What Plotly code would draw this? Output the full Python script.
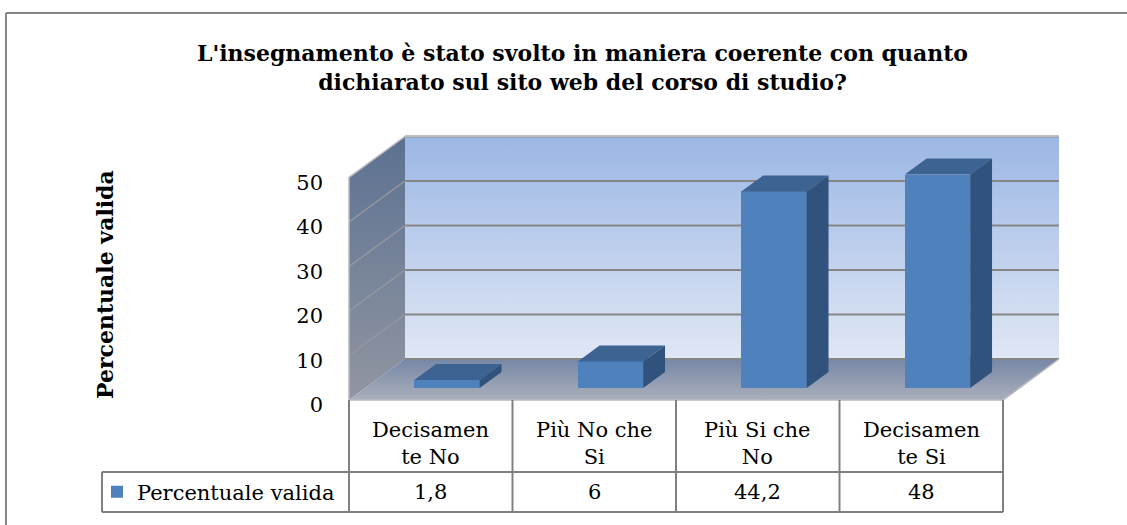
import plotly.graph_objects as go

# ---------------- data ----------------
categories = ["Decisamente No", "Più No che Si", "Più Si che No", "Decisamente Si"]
category_labels = ["Decisamen<br>te No", "Più No che<br>Si", "Più Si che<br>No", "Decisamen<br>te Si"]
values = [1.8, 6, 44.2, 48]
value_labels = ["1,8", "6", "44,2", "48"]
series_name = "Percentuale valida"
y_ticks = [0, 10, 20, 30, 40, 50]
title_text = ("L'insegnamento è stato svolto in maniera coerente con quanto<br>"
              "dichiarato sul sito web del corso di studio?")
y_title = "Percentuale valida"

# ---------------- geometry / style ----------------
W, H = 1127, 525
X0_PX, CAT_PX = 349, 163.5      # left front edge of floor, px per category
Y0_PX, UNIT_PX = 400, 4.45      # front floor line, px per value unit
DX = 56 / CAT_PX                # depth offset (x units)
DY = 41 / UNIT_PX               # depth offset (value units)
Y_MAX = y_ticks[-1]
D0, D1 = 0.29, 0.68             # bar depth span
BAR_W = 0.40
n = len(values)
X_LEFT, X_RIGHT = -0.5, n - 0.5

SERIF = "DejaVu Serif"
GRID = "rgb(134,134,134)"
EDGE = "rgb(185,185,190)"
FRONT = "rgb(79,129,189)"
TOP = "rgb(60,99,146)"
SIDE = "rgb(49,82,124)"


def xd(px):
    return X_LEFT + (px - X0_PX) / CAT_PX


def yd(py):
    return (Y0_PX - py) / UNIT_PX


def proj(x, v, d):
    return x + d * DX, v + d * DY


def poly(points):
    xs, ys = [], []
    for p in points:
        px, py = proj(*p)
        xs.append(px)
        ys.append(py)
    xs.append(xs[0])
    ys.append(ys[0])
    return xs, ys


x_range = [xd(0), xd(W)]
y_range = [yd(H), yd(0)]

fig = go.Figure()

# ---------------- walls & floor ----------------
lx, ly = poly([(X_LEFT, 0, 0), (X_LEFT, Y_MAX, 0), (X_LEFT, Y_MAX, 1), (X_LEFT, 0, 1)])
fig.add_trace(go.Scatter(x=lx, y=ly, mode="lines", fill="toself", line=dict(width=0),
                         fillgradient=dict(type="vertical",
                                           colorscale=[[0, "rgb(145,150,162)"], [1, "rgb(92,113,145)"]]),
                         hoverinfo="skip", showlegend=False))
bx, by = poly([(X_LEFT, 0, 1), (X_RIGHT, 0, 1), (X_RIGHT, Y_MAX, 1), (X_LEFT, Y_MAX, 1)])
fig.add_trace(go.Scatter(x=bx, y=by, mode="lines", fill="toself", line=dict(width=0),
                         fillgradient=dict(type="vertical",
                                           colorscale=[[0, "rgb(224,231,245)"], [1, "rgb(155,183,228)"]]),
                         hoverinfo="skip", showlegend=False))
fx, fy = poly([(X_LEFT, 0, 0), (X_RIGHT, 0, 0), (X_RIGHT, 0, 1), (X_LEFT, 0, 1)])
fig.add_trace(go.Scatter(x=fx, y=fy, mode="lines", fill="toself", line=dict(width=0),
                         fillgradient=dict(type="vertical",
                                           colorscale=[[0, "rgb(170,175,188)"], [1, "rgb(118,135,166)"]]),
                         hoverinfo="skip", showlegend=False))

# gridlines: back wall + left wall
gx, gy = [], []
for v in y_ticks:
    for p in [(X_LEFT, v, 1), (X_RIGHT, v, 1)]:
        a, b = proj(*p)
        gx.append(a); gy.append(b)
    gx.append(None); gy.append(None)
fig.add_trace(go.Scatter(x=gx, y=gy, mode="lines", line=dict(color=GRID, width=2),
                         hoverinfo="skip", showlegend=False))
sx, sy = [], []
for v in y_ticks[1:-1]:
    for p in [(X_LEFT, v, 0), (X_LEFT, v, 1)]:
        a, b = proj(*p)
        sx.append(a); sy.append(b)
    sx.append(None); sy.append(None)
fig.add_trace(go.Scatter(x=sx, y=sy, mode="lines", line=dict(color="rgb(150,152,160)", width=1.5),
                         hoverinfo="skip", showlegend=False))
# wall outlines
ox, oy = [], []
for seg in [[(X_LEFT, 0, 0), (X_LEFT, Y_MAX, 0), (X_LEFT, Y_MAX, 1), (X_RIGHT, Y_MAX, 1)],
            [(X_RIGHT, 0, 1), (X_RIGHT, 0, 0), (X_LEFT, 0, 0)]]:
    for p in seg:
        a, b = proj(*p)
        ox.append(a); oy.append(b)
    ox.append(None); oy.append(None)
fig.add_trace(go.Scatter(x=ox, y=oy, mode="lines", line=dict(color=EDGE, width=1.5),
                         hoverinfo="skip", showlegend=False))

# ---------------- bars (overlay axis y2 so they sit above the walls) ----------------
bar_x = [proj(i, 0, D0)[0] for i in range(n)]
fig.add_trace(go.Bar(x=bar_x, y=values, base=[D0 * DY] * n, width=BAR_W, name=series_name,
                     marker=dict(color=FRONT, line=dict(width=0)), yaxis="y2",
                     hoverinfo="skip", showlegend=True))
tx, ty, sdx, sdy = [], [], [], []
for i, v in enumerate(values):
    l, r = i - BAR_W / 2, i + BAR_W / 2
    xs, ys = poly([(l, v, D0), (r, v, D0), (r, v, D1), (l, v, D1)])
    tx += xs + [None]; ty += ys + [None]
    xs, ys = poly([(r, 0, D0), (r, v, D0), (r, v, D1), (r, 0, D1)])
    sdx += xs + [None]; sdy += ys + [None]
fig.add_trace(go.Scatter(x=tx, y=ty, mode="lines", fill="toself", fillcolor=TOP,
                         line=dict(width=0), yaxis="y2", hoverinfo="skip", showlegend=False))
fig.add_trace(go.Scatter(x=sdx, y=sdy, mode="lines", fill="toself", fillcolor=SIDE,
                         line=dict(width=0), yaxis="y2", hoverinfo="skip", showlegend=False))

# tick label axis (slightly offset like the original)
fig.add_trace(go.Scatter(x=[None], y=[None], yaxis="y3", hoverinfo="skip", showlegend=False))

# ---------------- data table ----------------
ROW1_TOP, ROW2_TOP, ROW2_BOT = 400, 472, 512
LEG_LEFT = 102
TAB = "rgb(128,128,128)"
shapes = []
for k in range(n + 1):
    shapes.append(dict(type="line", xref="x", yref="y", x0=X_LEFT + k, x1=X_LEFT + k,
                       y0=yd(ROW1_TOP), y1=yd(ROW2_BOT), line=dict(color=TAB, width=2)))
for py in [ROW2_TOP, ROW2_BOT]:
    shapes.append(dict(type="line", xref="x", yref="y", x0=xd(LEG_LEFT), x1=X_RIGHT,
                       y0=yd(py), y1=yd(py), line=dict(color=TAB, width=2)))
shapes.append(dict(type="line", xref="x", yref="y", x0=xd(LEG_LEFT), x1=xd(LEG_LEFT),
                   y0=yd(ROW2_TOP), y1=yd(ROW2_BOT), line=dict(color=TAB, width=2)))
# outer chart frame
shapes.append(dict(type="line", xref="paper", yref="paper", x0=6 / W, x1=1.01,
                   y0=1 - 13 / H, y1=1 - 13 / H, line=dict(color=GRID, width=2)))
shapes.append(dict(type="line", xref="paper", yref="paper", x0=6 / W, x1=6 / W,
                   y0=1 - 13 / H, y1=-0.01, line=dict(color=GRID, width=2)))

annotations = []
for i in range(n):
    annotations.append(dict(x=i, y=yd(443), xref="x", yref="y", text=category_labels[i],
                            showarrow=False, font=dict(family=SERIF, size=21, color="black"),
                            xanchor="center", yanchor="middle"))
    annotations.append(dict(x=i, y=yd(492), xref="x", yref="y", text=value_labels[i],
                            showarrow=False, font=dict(family=SERIF, size=21, color="black"),
                            xanchor="center", yanchor="middle"))
annotations.append(dict(x=105 / W, y=1 - 285 / H, xref="paper", yref="paper", text=y_title,
                        textangle=-90, showarrow=False,
                        font=dict(family=SERIF, size=22, color="black", weight="bold"),
                        xanchor="center", yanchor="middle"))
annotations.append(dict(x=582 / W, y=1 - 67 / H, xref="paper", yref="paper", text=title_text,
                        showarrow=False, align="center",
                        font=dict(family=SERIF, size=22, color="black", weight="bold"),
                        xanchor="center", yanchor="middle"))

shift = 5 / UNIT_PX
fig.update_layout(
    width=W, height=H, autosize=False,
    margin=dict(l=0, r=0, t=0, b=0),
    paper_bgcolor="white", plot_bgcolor="white",
    xaxis=dict(range=x_range, visible=False, fixedrange=True),
    yaxis=dict(range=y_range, visible=False, fixedrange=True),
    yaxis2=dict(range=y_range, overlaying="y", visible=False, fixedrange=True),
    yaxis3=dict(range=[y_range[0] + shift, y_range[1] + shift], overlaying="y", anchor="free",
                position=323 / W, side="left", tickvals=y_ticks, ticktext=[str(t) for t in y_ticks],
                showgrid=False, zeroline=False, showline=False, ticks="",
                tickfont=dict(family=SERIF, size=21, color="black"), fixedrange=True),
    showlegend=True,
    legend=dict(x=97 / W, y=1 - 492 / H, xanchor="left", yanchor="middle",
                bgcolor="rgba(0,0,0,0)", font=dict(family=SERIF, size=21, color="black"),
                borderwidth=0, itemclick=False, itemdoubleclick=False),
    shapes=shapes, annotations=annotations,
    bargap=0,
)

fig.write_html("out.html", config={"displayModeBar": False},
               post_script="document.body.style.margin='0px';")
